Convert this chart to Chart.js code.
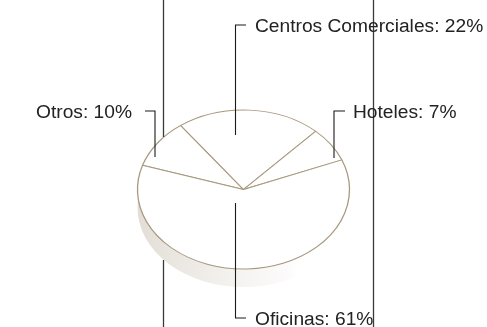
<!DOCTYPE html>
<html>
<head>
<meta charset="utf-8">
<style>
  html, body { margin: 0; padding: 0; background: #fff; }
  #wrap { width: 487px; height: 327px; }
</style>
<script src="https://cdn.jsdelivr.net/npm/chart.js@4"></script>
</head>
<body>
<div id="wrap"><canvas id="pieChart" width="487" height="327"></canvas></div>
<script>
const categories = ["Otros", "Centros Comerciales", "Hoteles", "Oficinas"];
const shares = [10, 22, 7, 61];

const TILT = 0.75;
const DEPTH = 18;
const PIE_CENTER = { x: 243.3, y: 189.5 };
const PIE_RADIUS = 106;

// callout text anchor and leader path, same order as categories
const callouts = [
    { x: 36, y: 111, path: [[145, 111], [155, 111], [155, 157]] },
    { x: 255, y: 25, path: [[246, 25], [235.5, 25], [235.5, 135]] },
    { x: 353, y: 111, path: [[345, 111], [334, 111], [334, 158]] },
    { x: 255, y: 318, path: [[235.5, 203], [235.5, 318], [246, 318]] }
];

// long vertical rules that run past the pie
const rules = [
    [163.5, 0, 163.5, 137],
    [163.5, 260, 163.5, 327],
    [373.5, 0, 373.5, 327]
];

// squash the pie into an ellipse and paint its side wall underneath
const tiltPlugin = {
    id: "tilt",
    beforeDatasetsDraw(chart) {
        const ctx = chart.ctx;
        const arc = chart.getDatasetMeta(0).data[0];
        const cx = arc.x;
        const r = arc.outerRadius;
        const grad = ctx.createLinearGradient(cx - r, 0, cx + r * 0.5, 0);
        grad.addColorStop(0, "#e2ded6");
        grad.addColorStop(0.3, "#ece9e4");
        grad.addColorStop(0.7, "#f7f5f3");
        grad.addColorStop(0.95, "#fcfbfb");
        grad.addColorStop(1, "#ffffff");
        ctx.save();
        ctx.fillStyle = grad;
        ctx.beginPath();
        ctx.ellipse(cx, PIE_CENTER.y + DEPTH, r, r * TILT, 0, 0, Math.PI * 2);
        ctx.fill();
        ctx.restore();

        ctx.save();
        ctx.translate(0, PIE_CENTER.y);
        ctx.scale(1, TILT);
        ctx.translate(0, -arc.y);
    },
    afterDatasetsDraw(chart) {
        chart.ctx.restore();
    }
};

// leader lines and "name: value%" captions
const calloutPlugin = {
    id: "callouts",
    afterDraw(chart) {
        const ctx = chart.ctx;
        ctx.save();
        ctx.strokeStyle = "#1a1a1a";
        ctx.lineWidth = 1.1;
        callouts.forEach(c => {
            ctx.beginPath();
            c.path.forEach((p, i) => i ? ctx.lineTo(p[0], p[1]) : ctx.moveTo(p[0], p[1]));
            ctx.stroke();
        });
        ctx.strokeStyle = "#3a3a3a";
        ctx.lineWidth = 1.3;
        rules.forEach(r => {
            ctx.beginPath();
            ctx.moveTo(r[0], r[1]);
            ctx.lineTo(r[2], r[3]);
            ctx.stroke();
        });
        ctx.fillStyle = "#222222";
        ctx.font = "19.2px 'Liberation Sans'";
        ctx.textBaseline = "alphabetic";
        categories.forEach((name, i) => {
            ctx.fillText(name + ": " + shares[i] + "%", callouts[i].x, callouts[i].y + 6.8);
        });
        ctx.restore();
    }
};

new Chart(document.getElementById("pieChart").getContext("2d"), {
    type: "pie",
    data: {
        labels: categories,
        datasets: [{
            data: shares,
            backgroundColor: "#ffffff",
            borderColor: "#a8997f",
            borderWidth: 1.3,
            borderAlign: "center"
        }]
    },
    options: {
        responsive: false,
        animation: false,
        rotation: -72.3,
        radius: PIE_RADIUS,
        layout: { padding: 0 },
        plugins: {
            legend: { display: false },
            tooltip: { enabled: false }
        }
    },
    plugins: [tiltPlugin, calloutPlugin]
});
</script>
</body>
</html>
